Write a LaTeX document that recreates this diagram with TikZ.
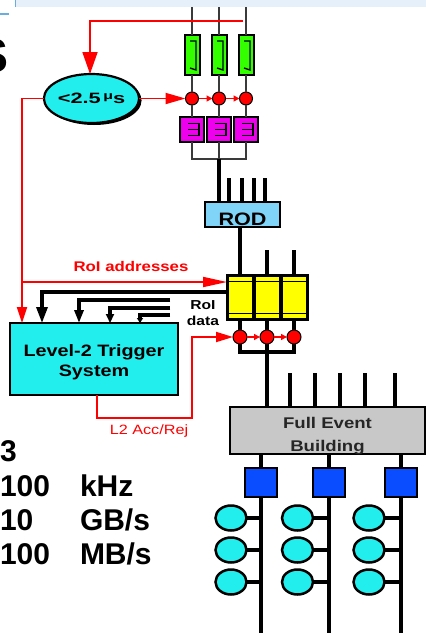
\documentclass[tikz,border=0pt]{standalone}
\usepackage{fontspec}
\setmainfont{Liberation Sans}
\newfontfamily\dfont[FakeStretch=1.2]{Liberation Sans}
\newfontfamily\efont[FakeStretch=1.45]{Liberation Sans}
\usetikzlibrary{arrows.meta,shapes.geometric,shadows,calc}
\definecolor{cyanF}{HTML}{22EEEE}
\definecolor{greenF}{HTML}{33FF00}
\definecolor{magF}{HTML}{EE00EE}
\definecolor{redF}{HTML}{FF0000}
\definecolor{yelF}{HTML}{FFFF00}
\definecolor{rodF}{HTML}{80D4F8}
\definecolor{febF}{HTML}{C8C8C8}
\definecolor{blueF}{HTML}{0A4CFF}
\definecolor{bandF}{HTML}{E6F0FB}
\definecolor{bandL}{HTML}{6AAEE0}
\definecolor{wireG}{HTML}{3A3A3A}
\begin{document}
\begin{tikzpicture}[x=1pt,y=-1pt,
  every node/.style={inner sep=0pt,outer sep=0pt},
  thinw/.style={draw=wireG,line width=1.8pt},
  thickw/.style={draw=black,line width=3.2pt},
  redw/.style={draw=redF,line width=1.8pt},
  greenbox/.style={draw=black,line width=2pt,fill=greenF,minimum width=15pt,minimum height=40pt,
    path picture={\draw[black,line width=1.4pt]
      ([shift={(-2pt,14pt)}]path picture bounding box.center) --
      ([shift={(4pt,14pt)}]path picture bounding box.center) --
      ([shift={(4pt,-15pt)}]path picture bounding box.center) --
      ([shift={(-2pt,-13pt)}]path picture bounding box.center);}},
  magbox/.style={draw=black,line width=2pt,fill=magF,minimum width=24pt,minimum height=25pt,
    path picture={\draw[black,line width=1.4pt]
      ([shift={(-4pt,6pt)}]path picture bounding box.center) -- ++(11pt,0pt) -- ++(0pt,-12pt) -- ++(-11pt,0pt);
      \draw[black,line width=1.4pt]
      ([shift={(-4pt,0pt)}]path picture bounding box.center) -- ++(11pt,0pt);}},
  reddot/.style={circle,draw=black,line width=1pt,fill=redF,minimum size=13pt},
  yelbox/.style={draw=black,line width=3pt,fill=yelF,minimum width=26pt,minimum height=44pt,
    path picture={\draw[black,line width=1pt]
      ([yshift=-6pt]path picture bounding box.north west) -- ([yshift=-6pt]path picture bounding box.north east);
      \draw[black,line width=1pt]
      ([yshift=6pt]path picture bounding box.south west) -- ([yshift=6pt]path picture bounding box.south east);}},
  bluesq/.style={draw=black,line width=2.5pt,fill=blueF,minimum width=32pt,minimum height=29pt},
  cydisc/.style={ellipse,draw=black,line width=2.5pt,fill=cyanF,minimum width=31pt,minimum height=25pt},
  bigtxt/.style={anchor=base west,font=\bfseries\fontsize{30}{30}\selectfont},
  redtxt/.style={text=redF,font=\dfont\bfseries\fontsize{14}{14}\selectfont},
  ]
\fill[white] (0,0) rectangle (426,633);
\useasboundingbox (0,0) rectangle (426,633);
% slide remnants
\fill[bandF] (15,0) rectangle (426,7);
\draw[bandL,line width=1pt] (15,0) -- (15,7);
\draw[bandL,line width=1.5pt] (0,14) -- (9,14);
\node[anchor=base east,font=\bfseries\fontsize{48}{48}\selectfont] (sglyph) at (9,72) {S};

% Level-1 part
\foreach \i/\x in {1/192,2/219,3/246}{
  \coordinate (t\i) at (\x,7);
  \node[greenbox] (g\i) at (\x,55) {};
  \node[reddot] (r\i) at (\x,98.5) {};
  \node[magbox] (m\i) at (\x,129.5) {};
}
\foreach \i in {1,2,3}{
  \draw[thinw] (t\i) -- (g\i.north);
  \draw[thinw] (g\i.south) -- (r\i.north);
  \draw[thinw] (r\i.south) -- (m\i.north);
}
\draw[redw,-{Triangle[length=6pt,width=6pt]}] (r1.east) -- (r2.west);
\draw[redw,-{Triangle[length=6pt,width=6pt]}] (r2.east) -- (r3.west);
\coordinate (mj) at (219,159);
\draw[thinw] (m1.south) |- (mj) -| (m3.south);
\draw[thinw] (m2.south) -- (mj);

\node[ellipse,draw=black,line width=2.2pt,fill=cyanF,minimum width=86pt,minimum height=49pt,
  drop shadow={shadow xshift=2.5pt,shadow yshift=-2pt,fill=black,opacity=1}] (L1) at (91.5,98.5)
  {\efont\bfseries\fontsize{15}{15}\selectfont <2.5\,\raisebox{4.5pt}{\fontsize{11}{11}\selectfont μ}s};

\coordinate (ta) at (243,21);
\coordinate (tc) at (90,21);
\draw[redw,-{Triangle[length=22pt,width=15pt]}] (ta) -- (tc) -- (tc |- L1.north);
\draw[redw,-{Triangle[length=20pt,width=11pt]}] (L1.east) -- (r1.west);

% ROD
\node[draw=black,line width=2.5pt,fill=rodF,minimum width=75pt,minimum height=25pt,
  label={[name=RODt,yshift=-5pt,font=\dfont\bfseries\fontsize{18}{18}\selectfont]center:ROD}] (ROD) at (242.5,214.5) {};
\draw[thickw] (mj) -- (mj |- ROD.north);
\foreach \i/\x in {1/229,2/242,3/254,4/265}{
  \coordinate (a\i) at (\x,178);
  \draw[thickw] (a\i) -- (a\i |- ROD.north);
}

% RoIB / ROB
\node[yelbox] (y1) at (240,297) {};
\node[yelbox] (y2) at (267,297) {};
\node[yelbox] (y3) at (294,297) {};
\draw[thickw] (y1.north |- ROD.south) -- (y1.north);
\coordinate (u2) at (267,250);
\coordinate (u3) at (294,250);
\draw[thickw] (u2) -- (y2.north);
\draw[thickw] (u3) -- (y3.north);
\foreach \i/\x in {1/240,2/267,3/294}{
  \node[reddot,minimum size=14pt] (s\i) at (\x,337) {};
  \draw[thickw] (y\i.south) -- (s\i.north);
}
\draw[redw,-{Triangle[length=6pt,width=6pt]}] (s1.east) -- (s2.west);
\draw[redw,-{Triangle[length=6pt,width=6pt]}] (s2.east) -- (s3.west);
\coordinate (sj) at (267,352);
\draw[thickw] (s1.south) |- (sj) -| (s3.south);
\draw[thickw] (s2.south) -- (sj);

% Level-2
\node[draw=black,line width=2.5pt,fill=cyanF,minimum width=168pt,minimum height=72pt,
  label={[name=L2t,yshift=-3pt,align=center,font=\dfont\bfseries\fontsize{16.5}{19.5}\selectfont]center:Level-2 Trigger\\System}] (L2) at (94,359) {};

\coordinate (lc) at (22,98.5);
\draw[redw,-{Triangle[length=16pt,width=10pt]}] (L1.west) -- (lc) -- (lc |- L2.north);
\coordinate (la) at (22,282);
\draw[redw,-{Triangle[length=24pt,width=10pt]}] (la) -- (la -| y1.west);
\node[redtxt] (roiaddr) at (131,266) {RoI addresses};

\coordinate (d1) at (42,292);
\draw[thickw,-{Triangle[length=16pt,width=11pt]}] (y1.west |- d1) -- (d1) -- (d1 |- L2.north);
\coordinate (d2s) at (170,300);
\coordinate (d2) at (79,300);
\draw[thickw,-{Triangle[length=13pt,width=9pt]}] (d2s) -- (d2) -- (d2 |- L2.north);
\coordinate (d3s) at (170,308);
\coordinate (d3) at (110,308);
\draw[thickw,-{Triangle[length=9pt,width=8pt]}] (d3s) -- (d3) -- (d3 |- L2.north);
\coordinate (d4s) at (170,315);
\coordinate (d4) at (140,315);
\draw[thickw,-{Triangle[length=5pt,width=6pt]}] (d4s) -- (d4) -- (d4 |- L2.north);
\node[align=center,font=\dfont\bfseries\fontsize{13}{16}\selectfont] (roidata) at (203,313) {RoI\\data};

\coordinate (q1) at (97,418);
\coordinate (q2) at (192,418);
\coordinate (q3) at (192,337);
\draw[redw,-{Triangle[length=17pt,width=10pt]}] (L2.south -| q1) -- (q1) -- (q2) -- (q3) -- (s1.west);
\node[text=redF,font=\dfont\fontsize{13.5}{13.5}\selectfont] (l2ar) at (149,431) {L2 Acc/Rej};

% Event building
\node[draw=black,line width=2.5pt,fill=febF,minimum width=195pt,minimum height=47pt,
  label={[name=FEBt,yshift=-5.5pt,align=center,text={black!85},font=\dfont\bfseries\fontsize{15.5}{22.5}\selectfont]center:Full Event\\Building}] (feb) at (327.5,430.5) {};
\draw[thickw] (sj) -- (sj |- feb.north);
\foreach \i/\x in {1/290,2/315,3/340,4/365,5/395}{
  \coordinate (f\i) at (\x,373);
  \draw[thickw] (f\i) -- (f\i |- feb.north);
}
\foreach \i/\x/\cx in {1/261/231,2/329/297.5,3/401/369}{
  \node[bluesq] (b\i) at (\x,482.5) {};
  \coordinate (e\i) at (\x,636);
  \draw[thickw] (b\i.north |- feb.south) -- (b\i.north);
  \draw[thickw] (b\i.south) -- (e\i);
  \foreach \j/\y in {1/518,2/550,3/582}{
    \node[cydisc] (c\i\j) at (\cx,\y) {};
    \draw[thickw] (c\i\j.east) -- (c\i\j.east -| b\i.south);
  }
}

% numbers
\node[bigtxt] (n0) at (0,461) {3};
\node[bigtxt] (n1) at (0,496) {100};
\node[bigtxt] (u1) at (80,496) {kHz};
\node[bigtxt] (n2) at (0,530) {10};
\node[bigtxt] (u2t) at (80,530) {GB/s};
\node[bigtxt] (n3) at (0,564) {100};
\node[bigtxt] (u3t) at (80,564) {MB/s};
\end{tikzpicture}
\end{document}
